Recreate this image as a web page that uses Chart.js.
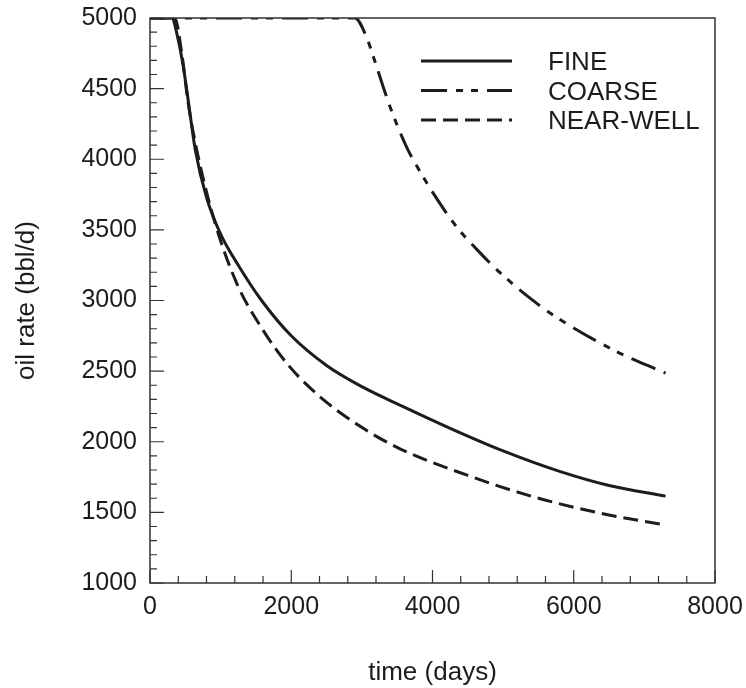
<!DOCTYPE html>
<html>
<head>
<meta charset="utf-8">
<script src="https://cdn.jsdelivr.net/npm/chart.js@4.4.1/dist/chart.umd.min.js"></script>
<style>
  html, body { margin: 0; padding: 0; background: #fff; }
  #wrap { width: 746px; height: 688px; }
</style>
</head>
<body>
<div id="wrap"><canvas id="rateChart" width="746" height="688"></canvas></div>
<script>
// Values (days, bbl/d)
const fineDays = [0, 310, 380, 470, 540, 640, 800, 1000, 1250, 1580, 2000, 2500, 3000, 3600, 4250, 5000, 5800, 6500, 7300];
const fineRate = [5000, 5000, 4890, 4660, 4420, 4070, 3730, 3470, 3250, 3000, 2750, 2540, 2390, 2245, 2095, 1935, 1790, 1690, 1615];

const coarseDays = [0, 2900, 3070, 3160, 3400, 3630, 3780, 4010, 4320, 4630, 4960, 5450, 5760, 6560, 7300];
const coarseRate = [5000, 5000, 4860, 4730, 4370, 4090, 3950, 3760, 3535, 3360, 3195, 2990, 2880, 2650, 2485];

const nearDays = [0, 350, 450, 540, 660, 920, 1230, 1600, 1980, 2450, 3020, 3540, 4480, 5430, 6370, 7300];
const nearRate = [5000, 5000, 4750, 4400, 4070, 3550, 3120, 2790, 2530, 2300, 2095, 1950, 1765, 1610, 1495, 1410];

const seriesNames = ['FINE', 'COARSE', 'NEAR-WELL'];
const xTicks = [0, 2000, 4000, 6000, 8000];
const yTicks = [1000, 1500, 2000, 2500, 3000, 3500, 4000, 4500, 5000];

const ink = '#1c1c1c';
const fontFamily = '"Liberation Sans", Arial, Helvetica, sans-serif';

function toPoints(days, rates) {
  return days.map((d, i) => ({ x: d, y: rates[i] }));
}

function noPadding(scale) {
  scale.paddingTop = 0;
  scale.paddingBottom = 0;
  scale.paddingLeft = 0;
  scale.paddingRight = 0;
}

// inward tick marks, frame and the legend block
const framePlugin = {
  id: 'frame',
  afterDatasetsDraw(chart) {
    const ctx = chart.ctx;
    const area = chart.chartArea;
    const xs = chart.scales.x;
    const ys = chart.scales.y;
    ctx.save();
    ctx.strokeStyle = '#333';
    ctx.lineWidth = 1.5;
    ctx.strokeRect(area.left, area.top, area.right - area.left, area.bottom - area.top);

    ctx.lineWidth = 1.2;
    ctx.beginPath();
    for (let v = 0; v <= 8000; v += 400) {
      const px = xs.getPixelForValue(v);
      const len = v % 2000 === 0 ? 13 : 7;
      ctx.moveTo(px, area.bottom);
      ctx.lineTo(px, area.bottom - len);
    }
    for (let v = 1000; v <= 5000; v += 100) {
      const py = ys.getPixelForValue(v);
      const len = v % 500 === 0 ? 14 : 7;
      ctx.moveTo(area.left, py);
      ctx.lineTo(area.left + len, py);
    }
    ctx.stroke();

    // legend
    const lx0 = area.left + 271;
    const lx1 = area.left + 362;
    const tx = area.left + 398;
    chart.data.datasets.forEach((ds, i) => {
      const ly = area.top + 43 + i * 29.5;
      ctx.strokeStyle = ds.borderColor;
      ctx.lineWidth = ds.borderWidth;
      ctx.setLineDash(ds.borderDash || []);
      ctx.beginPath();
      ctx.moveTo(lx0, ly);
      ctx.lineTo(lx1, ly);
      ctx.stroke();
      ctx.setLineDash([]);
      ctx.fillStyle = ink;
      ctx.font = '26px ' + fontFamily;
      ctx.textBaseline = 'middle';
      ctx.textAlign = 'left';
      ctx.fillText(ds.label, tx, ly + 2);
    });
    ctx.restore();
  }
};

const ctx = document.getElementById('rateChart').getContext('2d');

const rateChart = new Chart(ctx, {
  type: 'line',
  data: {
    datasets: [
      {
        label: seriesNames[0],
        data: toPoints(fineDays, fineRate),
        borderColor: ink,
        borderWidth: 3,
        borderDash: []
      },
      {
        label: seriesNames[1],
        data: toPoints(coarseDays, coarseRate),
        borderColor: ink,
        borderWidth: 3,
        borderDash: [26, 9, 7, 8, 7, 9]
      },
      {
        label: seriesNames[2],
        data: toPoints(nearDays, nearRate),
        borderColor: ink,
        borderWidth: 3,
        borderDash: [15, 7]
      }
    ]
  },
  options: {
    responsive: false,
    animation: false,
    devicePixelRatio: 1,
    cubicInterpolationMode: 'monotone',
    elements: { point: { radius: 0 } },
    layout: { padding: { top: 18, right: 31, bottom: 0, left: 0 } },
    plugins: {
      legend: { display: false },
      tooltip: { enabled: false }
    },
    scales: {
      x: {
        type: 'linear',
        min: 0,
        max: 8000,
        afterFit(scale) { scale.height = 105; noPadding(scale); },
        afterBuildTicks(scale) { scale.ticks = xTicks.map(v => ({ value: v })); },
        grid: { display: false, drawTicks: false },
        border: { display: false },
        ticks: {
          color: ink,
          padding: 9,
          maxRotation: 0,
          callback: v => String(v),
          font: { family: fontFamily, size: 25 }
        },
        title: {
          display: true,
          text: 'time (days)',
          color: ink,
          padding: { top: 0, bottom: 0 },
          font: { family: fontFamily, size: 26 }
        }
      },
      y: {
        type: 'linear',
        min: 1000,
        max: 5000,
        afterFit(scale) { scale.width = 150; noPadding(scale); },
        afterBuildTicks(scale) { scale.ticks = yTicks.map(v => ({ value: v })); },
        grid: { display: false, drawTicks: false },
        border: { display: false },
        ticks: {
          color: ink,
          padding: 13,
          callback: v => String(v),
          font: { family: fontFamily, size: 25 }
        },
        title: {
          display: true,
          text: 'oil rate (bbl/d)',
          color: ink,
          padding: { top: 11, bottom: 0 },
          font: { family: fontFamily, size: 26 }
        }
      }
    }
  },
  plugins: [framePlugin]
});
</script>
</body>
</html>
